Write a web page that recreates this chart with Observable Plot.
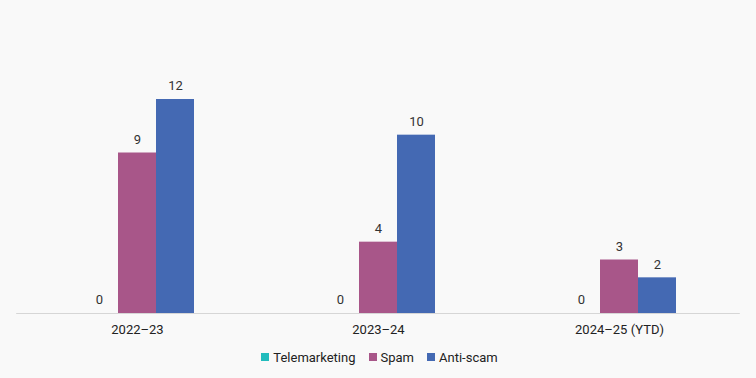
<!DOCTYPE html>
<html>
<head>
<meta charset="utf-8">
<script src="https://cdn.jsdelivr.net/npm/d3@7"></script>
<script src="https://cdn.jsdelivr.net/npm/@observablehq/plot@0.6"></script>
<style>
  html, body { margin: 0; padding: 0; background: #f9f9f9; }
  #chart { width: 756px; }
  .legend { display: flex; justify-content: center; align-items: center; height: 30px; font-family: Roboto, "Open Sans", sans-serif; font-size: 13px; color: #222; padding-left: 3px; }
  .legend .item { display: flex; align-items: center; margin: 0 6.5px; }
  .legend .sw { width: 8px; height: 8px; margin-right: 4px; }
</style>
</head>
<body>
<div id="chart"></div>
<script>
const years = ["2022–23", "2023–24", "2024–25 (YTD)"];
const series = ["Telemarketing", "Spam", "Anti-scam"];
const telemarketing = [0, 0, 0];
const spam = [9, 4, 3];
const antiScam = [12, 10, 2];
const colors = ["#22bcbd", "#a85689", "#4469b3"];

const seriesValues = [telemarketing, spam, antiScam];
const data = [];
years.forEach((year, i) => {
  series.forEach((s, j) => data.push({year, series: s, value: seriesValues[j][i]}));
});

const chart = Plot.plot({
  width: 756,
  height: 342,
  marginTop: 99,
  marginBottom: 29,
  marginLeft: 16,
  marginRight: 16,
  style: {background: "transparent", fontFamily: "Roboto, 'Open Sans', sans-serif", fontSize: "13px", color: "#222"},
  fx: {domain: years, paddingInner: 0.519, paddingOuter: 0.26, label: null, tickSize: 0, tickPadding: 11, axis: "bottom"},
  x: {domain: series, padding: 0, axis: null},
  y: {domain: [0, 12], axis: null},
  color: {domain: series, range: colors},
  marks: [
    Plot.barY(data, {fx: "year", x: "series", y: "value", fill: "series"}),
    Plot.ruleY([0], {stroke: "#d6d6d6", strokeWidth: 1, insetLeft: -62.8, insetRight: -62.8}),
    Plot.text(data, {fx: "year", x: "series", y: "value", text: d => String(d.value), dy: -13.5, fill: "#333"})
  ]
});
document.getElementById("chart").appendChild(chart);

const legend = document.createElement("div");
legend.className = "legend";
series.forEach((s, j) => {
  const item = document.createElement("div");
  item.className = "item";
  const sw = document.createElement("span");
  sw.className = "sw";
  sw.style.background = colors[j];
  const label = document.createElement("span");
  label.textContent = s;
  item.appendChild(sw);
  item.appendChild(label);
  legend.appendChild(item);
});
document.getElementById("chart").appendChild(legend);
</script>
</body>
</html>
